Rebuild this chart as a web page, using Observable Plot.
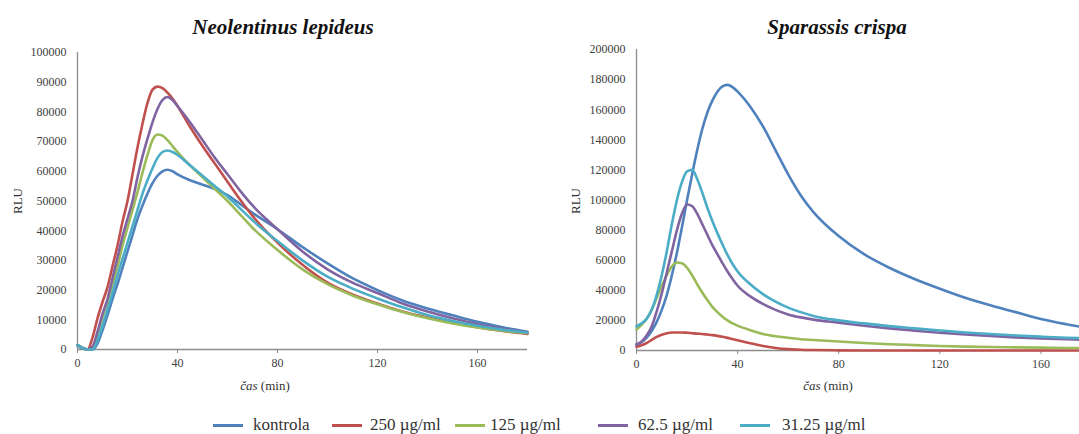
<!DOCTYPE html>
<html>
<head>
<meta charset="utf-8">
<script src="https://cdn.jsdelivr.net/npm/d3@7"></script>
<script src="https://cdn.jsdelivr.net/npm/@observablehq/plot@0.6"></script>
<style>
  html, body { margin: 0; padding: 0; background: #fff; overflow: hidden; }
  #wrap { position: relative; width: 1079px; height: 434px; overflow: hidden; background: #fff; color: #222; }
  #wrap, #wrap div, #wrap svg, #wrap svg text { font-family: "Liberation Serif", "Times New Roman", Times, serif !important; }
  #wrap svg { max-width: none !important; }
  .abs { position: absolute; white-space: nowrap; transform: translate(-50%, -50%); }
  .title { font-size: 21px; font-weight: bold; font-style: italic; color: #111; }
  .ylab { font-size: 13px; transform: translate(-50%, -50%) rotate(-90deg); color: #333; }
  .xlab { font-size: 13px; color: #333; }
  .leg { position: absolute; top: 425px; height: 0; }
  .leg .ln { position: absolute; top: -1.5px; height: 3px; width: 30px; }
  .leg .tx { position: absolute; top: 0; transform: translateY(-50%); font-size: 17px; white-space: nowrap; color: #333; }
</style>
</head>
<body>
<div id="wrap">
  <div id="left" style="position:absolute;left:0;top:0;width:540px;height:395px"></div>
  <div id="right" style="position:absolute;left:540px;top:0;width:564px;height:395px"></div>
  <div class="abs title" style="left:283px;top:27px">Neolentinus lepideus</div>
  <div class="abs title" style="left:837px;top:27px">Sparassis crispa</div>
  <div class="abs ylab" style="left:18px;top:201px">RLU</div>
  <div class="abs ylab" style="left:576px;top:201px">RLU</div>
  <div class="abs xlab" style="left:265px;top:386px"><i>čas</i> (min)</div>
  <div class="abs xlab" style="left:828px;top:386px"><i>čas</i> (min)</div>
  <div id="legend"></div>
</div>
<script>
// ---- Series / categories ----
const seriesNames = ["kontrola", "250 µg/ml", "125 µg/ml", "62.5 µg/ml", "31.25 µg/ml"];
const seriesColors = ["#4F81BD", "#C0504D", "#9BBB59", "#8064A2", "#4BACC6"];

// ---- Tick labels ----
const xTicks = [0, 40, 80, 120, 160];
const yTicksLeft = [0, 10000, 20000, 30000, 40000, 50000, 60000, 70000, 80000, 90000, 100000];
const yTicksRight = [0, 20000, 40000, 60000, 80000, 100000, 120000, 140000, 160000, 180000, 200000];

// ---- Neolentinus lepideus (time in min) ----
const timeN = [0,2,4,6,8,10,12,14,16,18,20,22,24,26,28,30,32,34,36,38,40,45,50,55,60,65,70,80,90,100,110,120,130,140,150,160,170,180];
const nKontrola = [1500,500,0,0,2000,6500,11500,17000,22000,27500,33000,38500,44000,48500,52500,56000,58500,60000,60500,60000,59000,57000,55500,54000,52000,49000,46000,40500,34500,29000,24000,20000,16500,13800,11500,9300,7500,6000];
const n250 = [1500,500,0,4000,10500,16000,21000,28000,35000,43000,50000,59000,68000,76000,83000,87500,88500,88000,86500,84500,82000,75000,68500,62500,56500,50500,45000,36000,28500,22500,18500,15500,12800,10800,9000,7500,6200,5200];
const n125 = [1500,500,0,500,5000,11000,16000,22000,28000,35000,41000,47000,53000,59500,65500,70500,72400,72000,70500,68500,66500,62000,58000,54000,50000,45500,41000,33500,27000,22000,18200,15200,12600,10500,8800,7400,6300,5500];
const n62 = [1500,500,0,1000,6000,12000,17000,24000,31000,38000,44000,50000,58000,65000,71000,76500,81000,84000,85000,84000,82000,76500,70500,64500,59000,53500,48500,40500,33000,27000,22500,19000,15500,12800,10500,8500,7000,5800];
const n31 = [1500,500,0,0,3000,8000,13500,19000,25000,30500,36000,41500,47000,52500,57000,61000,64500,66500,67000,66500,65500,62000,58500,55000,51500,47500,43500,36500,30000,24500,20500,17200,14200,11600,9600,8000,6700,5700];

// ---- Sparassis crispa (time in min) ----
const timeS = [0,2,4,6,8,10,12,14,16,18,20,22,24,26,28,30,32,34,36,38,40,45,50,55,60,65,70,80,90,100,110,120,130,140,150,160,170,180];
const sKontrola = [4000,5500,8500,13000,19000,27000,37000,50000,65000,82000,100000,117000,133000,147000,158000,166000,172000,175500,176500,175000,172000,162000,149000,133000,117000,103000,92000,76000,64000,55000,47500,41000,35000,30000,25500,21000,17500,14500];
const s250 = [2500,3500,5000,7000,9000,10500,11500,12000,12000,12000,11800,11500,11200,11000,10600,10200,9700,9100,8400,7600,6800,4800,3000,1700,900,500,300,100,0,0,0,0,0,0,0,0,0,0];
const s125 = [14000,17000,21000,27000,35000,43000,50000,56000,58500,58000,55000,50000,44000,38500,33500,29000,25500,22500,20000,18000,16500,13500,11000,9500,8500,7500,7000,6000,5000,4200,3600,3000,2600,2300,2100,1900,1700,1600];
const s62 = [4000,6000,10000,16000,26000,38000,52000,66000,80000,91000,97000,96000,91000,84000,77000,70000,64000,58000,52500,47500,43000,36000,31000,27000,24000,22000,20500,18500,16500,14700,13200,11800,10600,9600,8700,8000,7500,7000];
const s31 = [16000,18000,21000,27000,37000,50000,66000,84000,100000,112000,119000,120000,114000,105000,95000,86000,78000,70500,63500,57500,52500,44000,37500,32500,28500,25500,23000,20000,18000,16200,14700,13300,12000,11000,10000,9200,8500,8000];

function tidy(times, seriesList) {
  return seriesList.flatMap((vals, i) => vals.map((v, j) => ({t: times[j], v, s: seriesNames[i]})));
}

function chart({data, yMax, yTicks, width, marginLeft, marginRight, marginTop, marginBottom}) {
  return Plot.plot({
    width, height: 395, marginLeft, marginRight, marginTop, marginBottom,
    x: {domain: [0, 180]},
    y: {domain: [0, yMax]},
    color: {domain: seriesNames, range: seriesColors},
    style: {fontFamily: "Liberation Serif", fontSize: "12px", color: "#404040", background: "transparent", overflow: "visible", maxWidth: "none"},
    marks: [
      Plot.ruleX([0], {stroke: "#8c8c8c", strokeWidth: 1.3}),
      Plot.ruleY([0], {stroke: "#8c8c8c", strokeWidth: 1.3}),
      Plot.axisX({ticks: xTicks, tickSize: 4, tickPadding: 5, label: null, stroke: "#8c8c8c", tickFormat: d => String(d)}),
      Plot.axisY({ticks: yTicks, tickSize: 0, tickPadding: 11, label: null, tickFormat: d => String(d)}),
      Plot.line(data, {x: "t", y: "v", z: "s", stroke: "s", strokeWidth: 2.6, curve: "monotone-x"})
    ]
  });
}

document.getElementById("left").append(chart({
  data: tidy(timeN, [nKontrola, n250, n125, n62, n31]),
  yMax: 100000, yTicks: yTicksLeft,
  width: 540, marginLeft: 77, marginRight: 13, marginTop: 52, marginBottom: 46
}));

document.getElementById("right").append(chart({
  data: tidy(timeS, [sKontrola, s250, s125, s62, s31]),
  yMax: 200000, yTicks: yTicksRight,
  width: 564, marginLeft: 96, marginRight: 13, marginTop: 49, marginBottom: 45
}));

// ---- Legend (layout offsets) ----
const legendLineX = [213, 332, 455, 598, 740];
const legendTextX = [253, 370, 490, 638, 782];
const legend = document.getElementById("legend");
seriesNames.forEach((name, i) => {
  const item = document.createElement("div");
  item.className = "leg";
  item.style.left = "0px";
  const ln = document.createElement("div");
  ln.className = "ln";
  ln.style.left = legendLineX[i] + "px";
  ln.style.background = seriesColors[i];
  const tx = document.createElement("div");
  tx.className = "tx";
  tx.style.left = legendTextX[i] + "px";
  tx.textContent = name;
  item.append(ln, tx);
  legend.append(item);
});
</script>
</body>
</html>
